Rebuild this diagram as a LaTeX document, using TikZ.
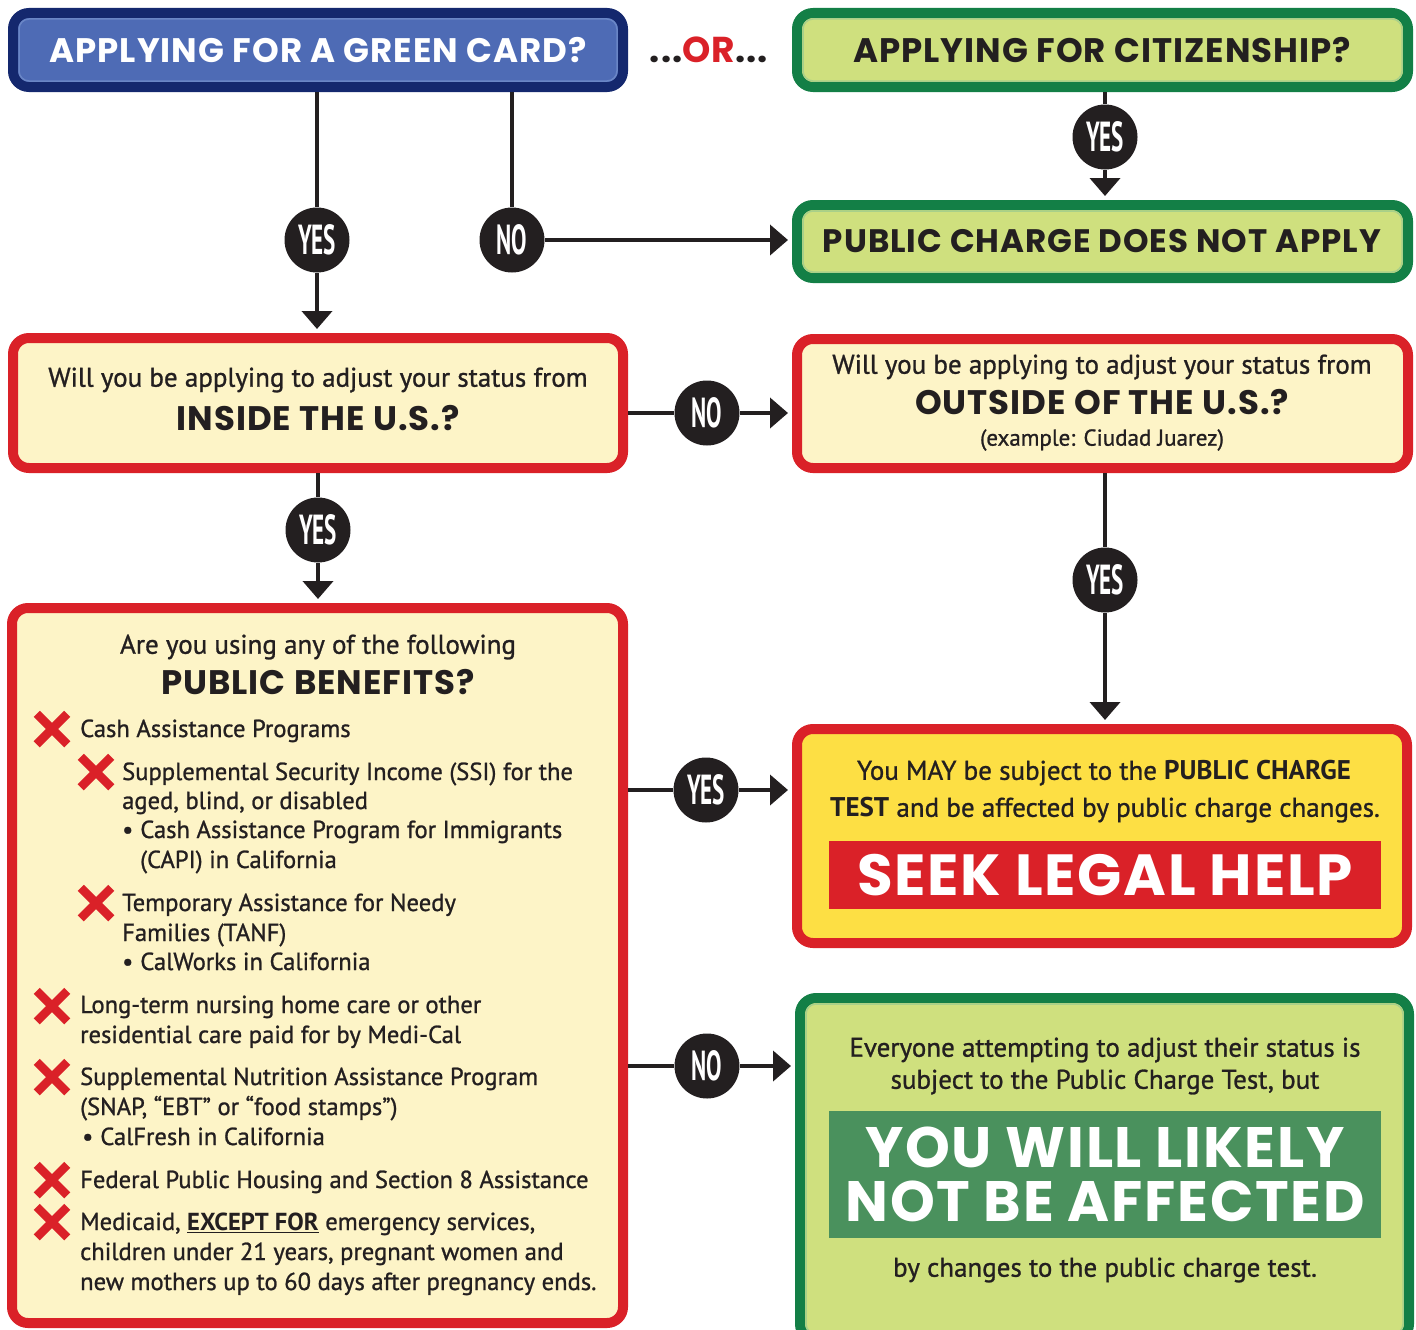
\documentclass[tikz,border=0pt]{standalone}
\usepackage{fontspec}
\setmainfont{PT Sans}[UprightFeatures = {FakeBold = 1}]
\newfontfamily\headfont{Poppins}[LetterSpace = 3]
\usetikzlibrary{arrows.meta, shapes.misc}

\definecolor{navy}{HTML}{14286E}
\definecolor{cardblue}{HTML}{4E6BB5}
\definecolor{cardline}{HTML}{6A86C6}
\definecolor{leafgreen}{HTML}{137F46}
\definecolor{lime}{HTML}{CFE07E}
\definecolor{limeline}{HTML}{A8D08A}
\definecolor{alertred}{HTML}{DA2128}
\definecolor{cream}{HTML}{FDF4C7}
\definecolor{sun}{HTML}{FDDF44}
\definecolor{pine}{HTML}{4A915D}
\definecolor{ink}{HTML}{231F20}

\newcommand{\answer}[1]{\scalebox{0.55}[1]{#1}}
\newcommand{\bodysize}{\fontsize{24.6}{30}\selectfont}
\newcommand{\leadsize}{\fontsize{27}{30}\selectfont}
\newcommand{\headsize}{\headfont\bfseries\fontsize{34}{38}\selectfont}

\tikzset{
  box/.style = {rounded corners = 16pt, line width = 10pt, inner sep = 0pt},
  bluebox/.style = {box, draw = navy, fill = cardblue},
  greenbox/.style = {box, draw = leafgreen, fill = lime},
  redbox/.style = {box, draw = alertred, fill = cream},
  answer/.style = {circle, fill = ink, text = white, minimum size = 65pt, inner sep = 0pt, font = \fontsize{42}{42}\selectfont\bfseries},
  link/.style = {draw = ink, line width = 4pt},
  arrow/.style = {link, -{Triangle[length = 18pt, width = 30pt]}, shorten > = 4pt},
  xmark/.style = {cross out, draw = alertred, line width = 8.5pt, minimum size = 22pt, inner sep = 0pt},
  item/.style = {anchor = base west, inner sep = 0pt, text = ink, font = \bodysize},
  line/.style = {inner sep = 0pt, text = ink, font = \leadsize},
  banner/.style = {minimum width = 552pt, inner sep = 0pt, text = white, align = center}
}

\begin{document}
\begin{tikzpicture}[x = 1pt, y = -1pt]
\useasboundingbox (0,0) rectangle (1416,1330);

\node[bluebox, minimum width = 610pt, minimum height = 74pt] (blue) at (318,50) {};
\node[greenbox, minimum width = 611pt, minimum height = 74pt] (citizen) at (1102.5,50) {};
\node[greenbox, minimum width = 611pt, minimum height = 73pt] (nocharge) at (1102.5,241.5) {};
\node[redbox, minimum width = 610pt, minimum height = 130pt] (inside) at (318,403) {};
\node[redbox, minimum width = 611pt, minimum height = 129pt] (outside) at (1102.5,403.5) {};
\node[redbox, minimum width = 611pt, minimum height = 715pt] (benefits) at (317.5,965.5) {};
\node[box, draw = alertred, fill = sun, minimum width = 610pt, minimum height = 214pt] (maybe) at (1102,836) {};
\node[greenbox, minimum width = 609pt, minimum height = 342pt] (unlikely) at (1104.5,1169) {};

\foreach \b/\c in {blue/cardline, citizen/limeline, nocharge/limeline, unlikely/limeline}
   \draw[\c, line width = 1.5pt, rounded corners = 10pt] ([shift = {(11pt,-11pt)}]\b.north west) rectangle ([shift = {(-11pt,11pt)}]\b.south east);

\node[text = white, inner sep = 0pt, font = \headsize] (bluetext) at (318,50) {APPLYING FOR A GREEN CARD?};
\node[text = ink, inner sep = 0pt, font = \headsize\fontsize{36}{38}\selectfont] (or) at (709,50) {...\textcolor{alertred}{OR}...};
\node[text = ink, inner sep = 0pt, font = \headsize] (citizentext) at (1102,50) {APPLYING FOR CITIZENSHIP?};
\node[text = ink, inner sep = 0pt, font = \headsize\fontsize{32.5}{38}\selectfont] (nochargetext) at (1102,241) {PUBLIC CHARGE DOES NOT APPLY};

\node[line] (insideq) at (318,380) {Will you be applying to adjust your status from};
\node[text = ink, inner sep = 0pt, font = \headsize] (insidetext) at (318,418) {INSIDE THE U.S.?};
\node[line] (outsideq) at (1102,367) {Will you be applying to adjust your status from};
\node[text = ink, inner sep = 0pt, font = \headsize] (outsidetext) at (1102,402) {OUTSIDE OF THE U.S.?};
\node[line, font = \fontsize{23}{24}\selectfont] (example) at (1102,440) {(example: Ciudad Juarez)};

\node[line] (benefitsq) at (318,647) {Are you using any of the following};
\node[text = ink, inner sep = 0pt, font = \headsize] (benefitstext) at (318,682) {PUBLIC BENEFITS?};

\foreach \x/\y in {52/729, 96/772, 96/903, 52/1006, 52/1077, 52/1180, 52/1222}
   \node[xmark] (x\y) at (\x,\y) {};

\foreach \x/\y/\t in {80/737/{Cash Assistance Programs},
   122/780/{Supplemental Security Income (SSI) for the},
   122/809/{aged, blind, or disabled},
   122/838/{•\hspace{7pt}Cash Assistance Program for Immigrants},
   140/868/{(CAPI) in California},
   122/911/{Temporary Assistance for Needy},
   122/941/{Families (TANF)},
   122/970/{•\hspace{7pt}CalWorks in California},
   80/1013/{Long-term nursing home care or other},
   80/1043/{residential care paid for by Medi-Cal},
   80/1085/{Supplemental Nutrition Assistance Program},
   80/1115/{(SNAP, “EBT” or “food stamps”)},
   82/1145/{•\hspace{7pt}CalFresh in California},
   80/1188/{Federal Public Housing and Section 8 Assistance},
   80/1230/{Medicaid, \underline{\textbf{EXCEPT FOR}} emergency services,},
   80/1260/{children under 21 years, pregnant women and},
   80/1290/{new mothers up to 60 days after pregnancy ends.}}
   \node[item] (t\y) at (\x,\y) {\t};

\node[line] (maybe1) at (1104,773) {You MAY be subject to the \textbf{PUBLIC CHARGE}};
\node[line] (maybe2) at (1105,810) {\textbf{TEST} and be affected by public charge changes.};
\node[banner, fill = alertred, minimum height = 68pt, font = \headfont\bfseries\fontsize{58}{58}\selectfont] (help) at (1105,875) {SEEK LEGAL HELP};

\node[line] (unlikely1) at (1105,1050) {Everyone attempting to adjust their status is};
\node[line] (unlikely2) at (1105,1082) {subject to the Public Charge Test, but};
\node[banner, fill = pine, minimum height = 127pt, font = \headfont\bfseries\fontsize{57}{54}\selectfont] (safe) at (1105,1174.5) {YOU WILL LIKELY\\NOT BE AFFECTED};
\node[line] (unlikely3) at (1105,1270) {by changes to the public charge test.};

\foreach \n/\x/\y/\t in {yes1/317/240/YES, no1/512/240/NO, yes2/1105/137/YES, no2/707/413/NO,
   yes3/318/530/YES, yes4/1105/580/YES, yes5/706/790/YES, no3/707/1066/NO}
   \node[answer] (\n) at (\x,\y) {\answer{\t}};

\draw[link] (yes1 |- blue.south) -- (yes1);
\draw[arrow] (yes1) -- (yes1 |- inside.north);
\draw[link] (no1 |- blue.south) -- (no1);
\draw[arrow] (no1) -- (no1 -| nocharge.west);
\draw[link] (yes2 |- citizen.south) -- (yes2);
\draw[arrow] (yes2) -- (yes2 |- nocharge.north);
\draw[link] (inside.east |- no2) -- (no2);
\draw[arrow] (no2) -- (no2 -| outside.west);
\draw[link] (yes3 |- inside.south) -- (yes3);
\draw[arrow] (yes3) -- (yes3 |- benefits.north);
\draw[link] (yes4 |- outside.south) -- (yes4);
\draw[arrow] (yes4) -- (yes4 |- maybe.north);
\draw[link] (benefits.east |- yes5) -- (yes5);
\draw[arrow] (yes5) -- (yes5 -| maybe.west);
\draw[link] (benefits.east |- no3) -- (no3);
\draw[arrow] (no3) -- (no3 -| unlikely.west);
\end{tikzpicture}
\end{document}
